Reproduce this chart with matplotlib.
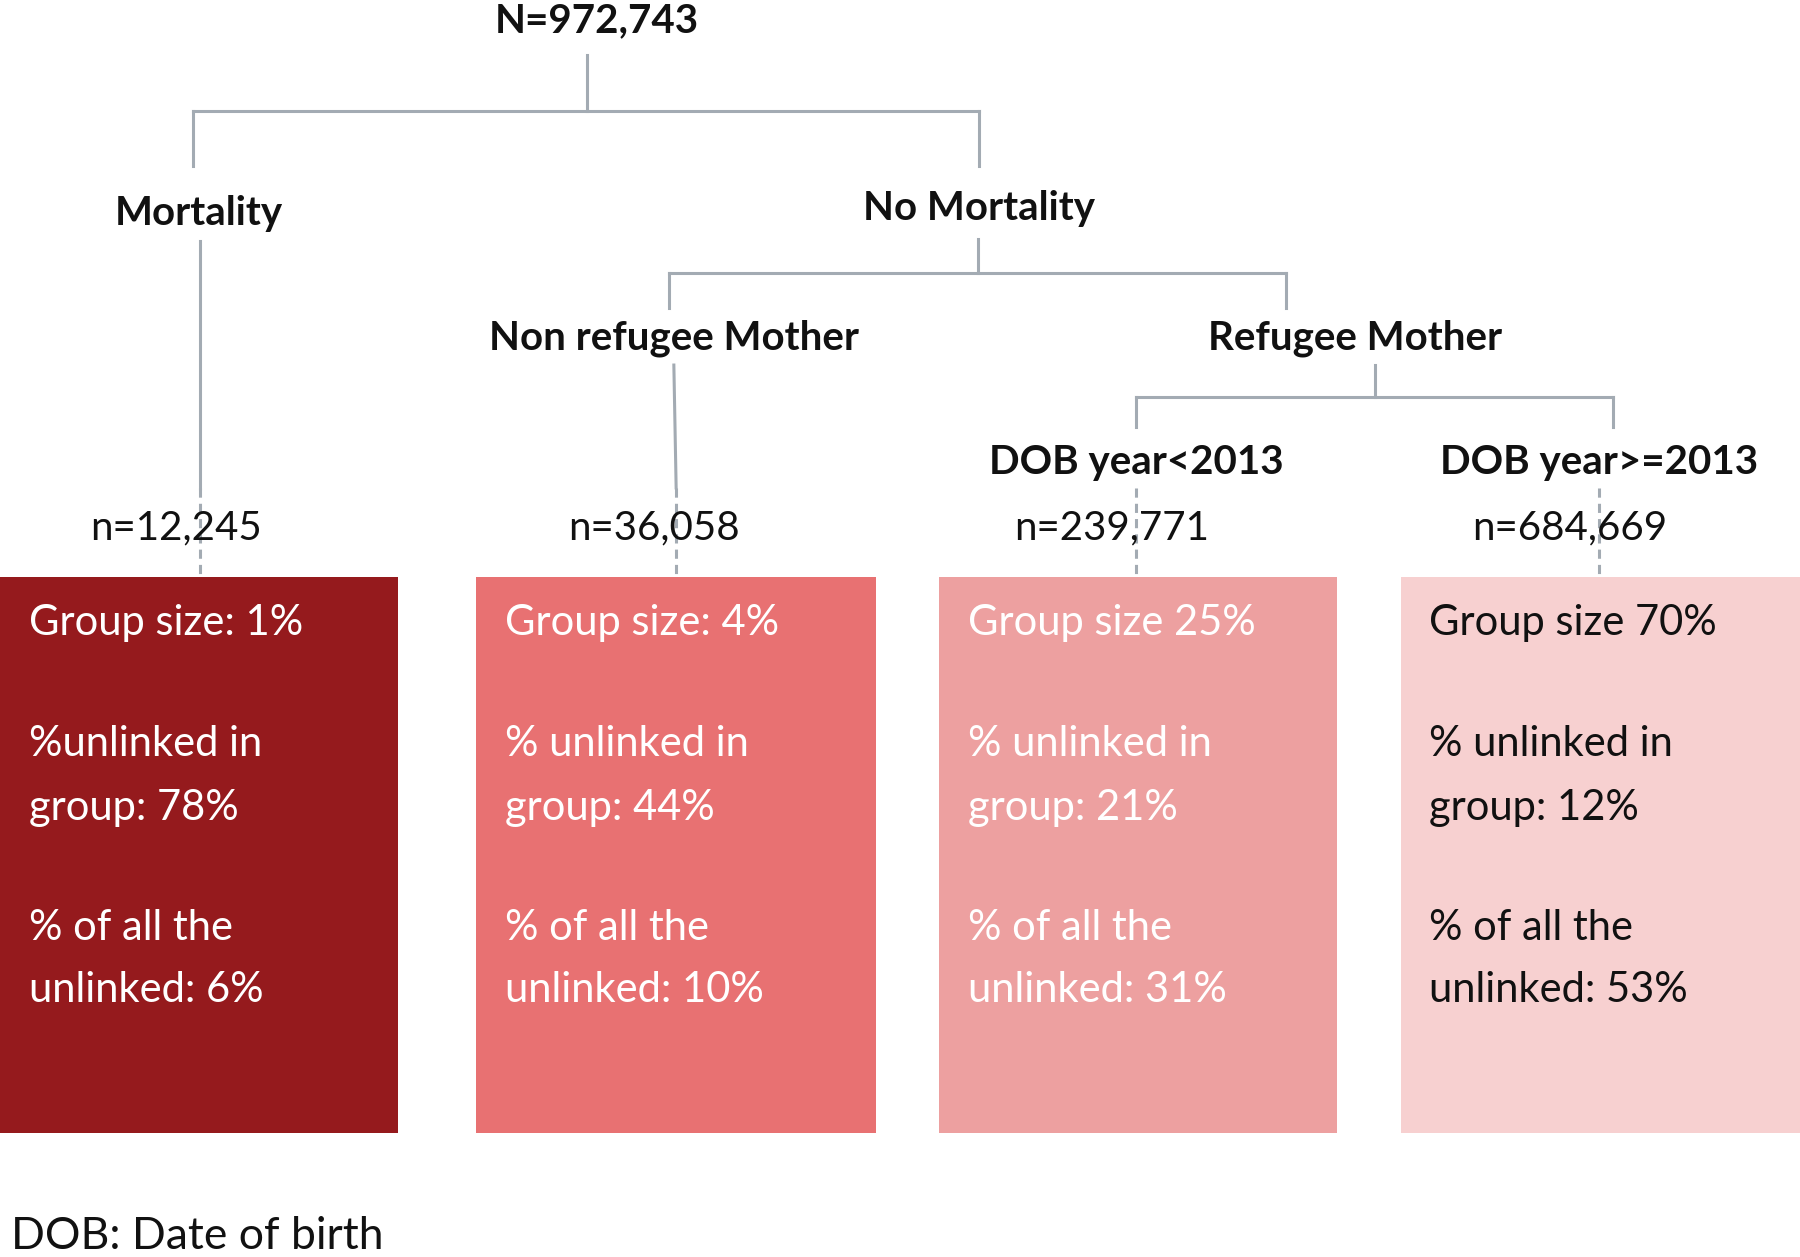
import matplotlib.pyplot as plt
from matplotlib.patches import Rectangle

plt.rcParams['font.family'] = ['Lato', 'DejaVu Sans']

# data
total_label = 'N=972,743'
level1 = ['Mortality', 'No Mortality']
level2 = ['Non refugee Mother', 'Refugee Mother']
level3 = ['DOB year<2013', 'DOB year>=2013']
group_n = ['n=12,245', 'n=36,058', 'n=239,771', 'n=684,669']
group_size = ['Group size: 1%', 'Group size: 4%', 'Group size 25%', 'Group size 70%']
unlinked_line1 = ['%unlinked in', '% unlinked in', '% unlinked in', '% unlinked in']
unlinked_in_group = ['group: 78%', 'group: 44%', 'group: 21%', 'group: 12%']
of_all_unlinked = ['unlinked: 6%', 'unlinked: 10%', 'unlinked: 31%', 'unlinked: 53%']
box_colors = ['#951a1d', '#e87172', '#eda0a0', '#f7d0d0']
text_colors = ['white', 'white', 'white', '#111111']

W, H = 1568, 1095
fig = plt.figure(figsize=(18, 12.57), dpi=100)
ax = fig.add_axes([0, 0, 1, 1])
ax.set_xlim(0, W)
ax.set_ylim(H, 0)
ax.axis('off')

lc = '#a3abb3'
def seg(x0, y0, x1, y1, ls='-'):
    ax.plot([x0, x1], [y0, y1], color=lc, lw=2.2, ls=ls, zorder=1)

# tree lines
seg(511, 48, 511, 97); seg(168, 97, 853, 97)
seg(168, 97, 168, 145); seg(853, 97, 853, 145)
seg(174, 210, 174, 425); seg(174, 425, 174, 500, ls=(0, (3, 2)))
seg(852, 208, 852, 238); seg(583, 238, 1120, 238)
seg(583, 238, 583, 268); seg(1120, 238, 1120, 268)
seg(587, 318, 589, 425); seg(589, 425, 589, 500, ls=(0, (3, 2)))
seg(1198, 318, 1198, 346); seg(990, 346, 1405, 346)
seg(990, 346, 990, 372); seg(1405, 346, 1405, 372)
seg(990, 425, 990, 500, ls=(0, (3, 2))); seg(1393, 425, 1393, 500, ls=(0, (3, 2)))

bold = dict(fontsize=29, fontweight='bold', ha='center', va='center', color='#111111')
ax.text(520, 18, total_label, **bold)
ax.text(173, 186, level1[0], **bold)
ax.text(853, 182, level1[1], **bold)
ax.text(587, 295, level2[0], **bold)
ax.text(1180, 295, level2[1], **bold)
ax.text(990, 403, level3[0], **bold)
ax.text(1393, 403, level3[1], **bold)

n_x = [153, 570, 968, 1367]
box_x = [0, 415, 818, 1220]
box_w = [347, 348, 347, 348]
for i in range(4):
    ax.text(n_x[i], 460, group_n[i], fontsize=29, ha='center', va='center', color='#111111',
            bbox=dict(facecolor='white', edgecolor='none', pad=0, alpha=0))
    ax.add_patch(Rectangle((box_x[i], 503), box_w[i], 484, facecolor=box_colors[i],
                           edgecolor='none', zorder=2))
    tx = box_x[i] + 25
    kw = dict(fontsize=30, ha='left', va='center', color=text_colors[i], zorder=3)
    ax.text(tx, 543, group_size[i], **kw)
    ax.text(tx, 648, unlinked_line1[i], **kw)
    ax.text(tx, 704, unlinked_in_group[i], **kw)
    ax.text(tx, 808, '% of all the', **kw)
    ax.text(tx, 862, of_all_unlinked[i], **kw)

ax.text(10, 1077, 'DOB: Date of birth', fontsize=32, ha='left', va='center', color='#111111')

fig.savefig('out.png')
